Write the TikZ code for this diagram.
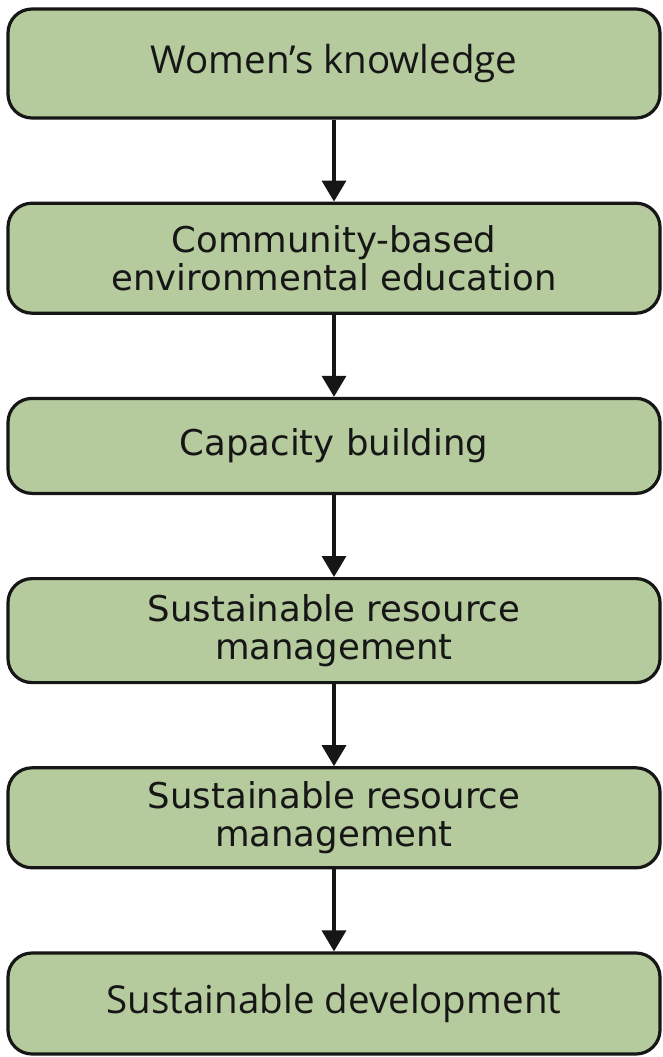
\documentclass[tikz,border=0pt]{standalone}
\usepackage{fontspec}
\setmainfont{DejaVu Sans}
\newfontfamily\opensans{Open Sans}
\usetikzlibrary{positioning,arrows.meta}

\definecolor{boxgreen}{RGB}{182,203,157}
\definecolor{inkdark}{RGB}{22,22,22}

\begin{document}
\begin{tikzpicture}[>={Triangle[width=24pt,length=21pt]},node distance=82pt,
    stage/.style={draw=inkdark,line width=3.2pt,fill=boxgreen,rounded corners=24pt,
        minimum width=652pt,align=center,text=inkdark,font=\fontsize{35.5}{38}\selectfont},
    stagealt/.style={stage,font=\opensans\fontsize{38.5}{42}\selectfont},
    flow/.style={->,draw=inkdark,line width=3.4pt}]
    \useasboundingbox (0pt,0pt) rectangle (662pt,-1057pt);

    \node[stagealt,minimum height=109pt] (knowledge) at (334pt,-63.5pt) {Women’s knowledge};
    \node[stage,minimum height=110pt] (education) [below=of knowledge] {Community-based\\environmental education};
    \node[stage,minimum height=95pt] (capacity) [below=of education] {Capacity building};
    \node[stage,minimum height=104pt] (resource1) [below=of capacity] {Sustainable resource\\management};
    \node[stage,minimum height=100pt] (resource2) [below=of resource1] {Sustainable resource\\management};
    \node[stagealt,minimum height=101pt] (development) [below=of resource2] {Sustainable development};

    \draw[flow] (knowledge) -- (education);
    \draw[flow] (education) -- (capacity);
    \draw[flow] (capacity) -- (resource1);
    \draw[flow] (resource1) -- (resource2);
    \draw[flow] (resource2) -- (development);
\end{tikzpicture}
\end{document}
